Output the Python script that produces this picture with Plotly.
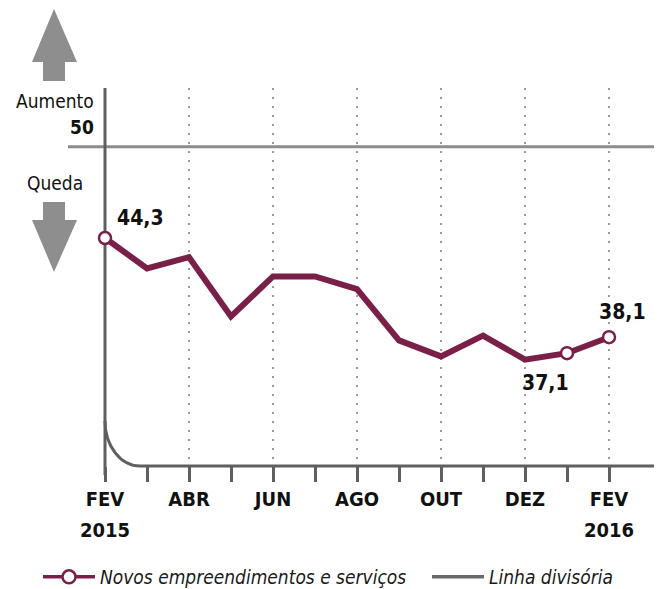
import plotly.graph_objects as go

months = ["FEV", "MAR", "ABR", "MAI", "JUN", "JUL", "AGO", "SET", "OUT", "NOV", "DEZ", "JAN", "FEV"]
years = {0: "2015", 12: "2016"}
values = [44.3, 42.4, 43.1, 39.4, 41.9, 41.9, 41.1, 37.9, 36.9, 38.2, 36.7, 37.1, 38.1]
marked = [0, 11, 12]
divider_value = 50
series_name = "Novos empreendimentos e serviços"
divider_name = "Linha divisória"

W, H = 658, 589
BOTTOM = 466  # pixel y of x-axis
FONT = "DejaVu Sans Condensed, Roboto, sans-serif"
MAROON = "#7a2048"
AXIS = "#5f5f5f"
GRAY = "#8c8c8c"

x = list(range(len(values)))


def pxx(p):
    return p / W


def pxy(p):
    return (BOTTOM - p) / BOTTOM


fig = go.Figure()

# main line
fig.add_trace(go.Scatter(x=x, y=values, mode="lines", line=dict(color=MAROON, width=6),
                         showlegend=False, hoverinfo="skip"))
# highlighted markers
fig.add_trace(go.Scatter(x=[x[i] for i in marked], y=[values[i] for i in marked], mode="markers",
                         marker=dict(size=12, color="white", line=dict(color=MAROON, width=2.5)),
                         showlegend=False))
# legend entries
fig.add_trace(go.Scatter(x=[None], y=[None], mode="lines+markers", name=series_name,
                         line=dict(color=MAROON, width=3.5), legend="legend",
                         marker=dict(size=13, color="white", line=dict(color=MAROON, width=2.5))))
fig.add_trace(go.Scatter(x=[None], y=[None], mode="lines", name=divider_name, legend="legend2",
                         line=dict(color="#6a6a6a", width=3.5)))

shapes = []
# dotted verticals at labelled months
for i in range(2, len(values), 2):
    shapes.append(dict(type="line", xref="x", yref="paper", x0=i, x1=i, y0=pxy(88), y1=0,
                       line=dict(color="#9a9a9a", width=2, dash="2px,7px"), layer="below"))
# divider line at 50
shapes.append(dict(type="line", xref="paper", yref="y", x0=pxx(68), x1=pxx(654),
                   y0=divider_value, y1=divider_value, line=dict(color=GRAY, width=3), layer="below"))
# vertical axis
shapes.append(dict(type="line", xref="x", yref="paper", x0=0, x1=0, y0=pxy(88), y1=pxy(475),
                   line=dict(color=AXIS, width=3), layer="below"))
# broken-axis curve and baseline
k = 0.552
shapes.append(dict(type="path", xref="paper", yref="paper",
                   path=(f"M {pxx(105)},{pxy(421)} "
                         f"C {pxx(105)},{pxy(421 + 45 * k)} {pxx(140 - 35 * k)},{pxy(466)} {pxx(140)},{pxy(466)} "
                         f"L {pxx(654)},{pxy(466)}"),
                   line=dict(color=AXIS, width=3), layer="below"))
# arrows
up = [(54, 9), (77, 62), (65, 62), (65, 81), (43, 81), (43, 62), (32, 62)]
down = [(43, 202), (65, 202), (65, 220), (77, 220), (54, 272), (32, 220), (43, 220)]
for pts in (up, down):
    path = "M " + " L ".join(f"{pxx(a)},{pxy(b)}" for a, b in pts) + " Z"
    shapes.append(dict(type="path", xref="paper", yref="paper", path=path,
                       fillcolor="#8e8e8e", line=dict(width=0)))

annotations = []
lab_style = dict(showarrow=False, font=dict(family=FONT, size=21, color="#111", weight="bold"))
offsets = {0: (35, 20), 11: (-22, -30), 12: (13, 25)}
for i in marked:
    dx, dy = offsets[i]
    annotations.append(dict(x=x[i], y=values[i], text=f"{values[i]:.1f}".replace(".", ","),
                            xshift=dx, yshift=dy, **lab_style))
annotations.append(dict(xref="paper", yref="paper", x=pxx(55), y=pxy(101), text="Aumento",
                        xanchor="center", yanchor="middle",
                        showarrow=False, font=dict(family=FONT, size=19, color="#111")))
annotations.append(dict(xref="paper", yref="y", x=pxx(96), y=divider_value, yshift=20, xanchor="right",
                        yanchor="middle", text=str(divider_value), showarrow=False,
                        font=dict(family=FONT, size=19, color="#111", weight="bold")))
annotations.append(dict(xref="paper", yref="paper", x=pxx(55), y=pxy(183), text="Queda",
                        xanchor="center", yanchor="middle",
                        showarrow=False, font=dict(family=FONT, size=19, color="#111")))
for i, yr in years.items():
    annotations.append(dict(x=x[i], xref="x", yref="paper", y=pxy(530), text=yr, showarrow=False,
                            xanchor="center", yanchor="middle",
                            font=dict(family=FONT, size=20, color="#111", weight="bold")))

tickvals = x
ticktext = [m if i % 2 == 0 else "" for i, m in enumerate(months)]

# axis ranges chosen so 1 month = 42 px and 1 unit = 16 px
x0 = -105 / 42
x1 = x0 + W / 42
y_bottom = 44.3 - (BOTTOM - 238) / 16
y_top = y_bottom + BOTTOM / 16

legend_common = dict(orientation="h", y=pxy(577), yanchor="middle", xanchor="left",
                     font=dict(family=FONT, size=19, color="#1a1a1a", style="italic"),
                     bgcolor="rgba(0,0,0,0)", borderwidth=0)

fig.update_layout(
    width=W, height=H,
    margin=dict(l=0, r=0, t=0, b=H - BOTTOM, pad=0, autoexpand=False),
    paper_bgcolor="white", plot_bgcolor="white",
    xaxis=dict(range=[x0, x1], tickvals=tickvals, ticktext=ticktext, ticks="outside",
               ticklen=15, tickwidth=3, tickcolor=AXIS, showgrid=False, zeroline=False,
               showline=False, tickfont=dict(family=FONT, size=20, color="#111", weight="bold"),
               fixedrange=True, automargin=False),
    yaxis=dict(range=[y_bottom, y_top], visible=False, fixedrange=True),
    shapes=shapes,
    annotations=annotations,
    showlegend=True,
    legend=dict(x=pxx(38), itemwidth=52, **legend_common),
    legend2=dict(x=pxx(427), itemwidth=52, **legend_common),
)

fig.write_html("out.html")
